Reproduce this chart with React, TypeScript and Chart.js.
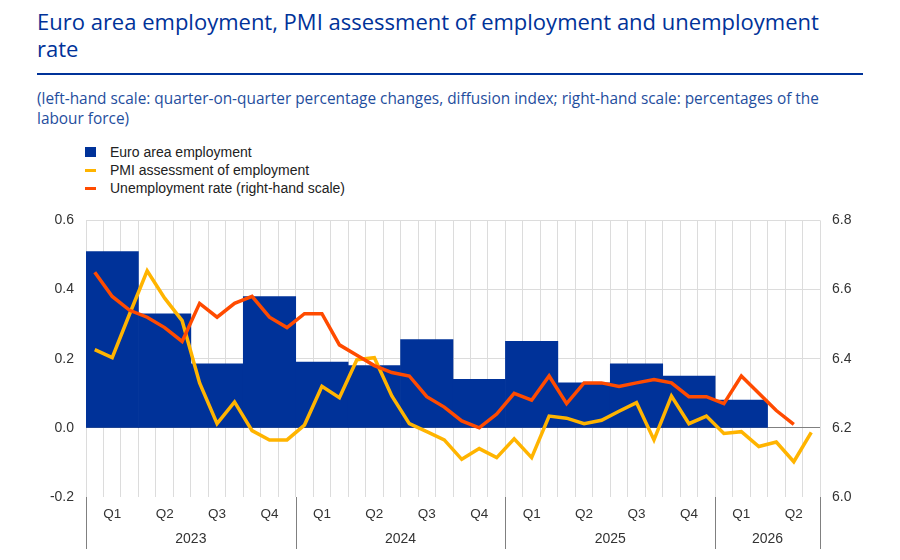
import { useEffect, useRef } from 'react';
import { Chart, registerables } from 'chart.js';

Chart.register(...registerables);

const BLUE = '#003299';
const YELLOW = '#ffb400';
const ORANGE = '#ff4b00';

const quarters = [
	'2023 Q1', '2023 Q2', '2023 Q3', '2023 Q4',
	'2024 Q1', '2024 Q2', '2024 Q3', '2024 Q4',
	'2025 Q1', '2025 Q2', '2025 Q3', '2025 Q4',
	'2026 Q1', '2026 Q2',
];

const years = ['2023', '2024', '2025', '2026'];

const months = [
	'2023-01', '2023-02', '2023-03', '2023-04', '2023-05', '2023-06',
	'2023-07', '2023-08', '2023-09', '2023-10', '2023-11', '2023-12',
	'2024-01', '2024-02', '2024-03', '2024-04', '2024-05', '2024-06',
	'2024-07', '2024-08', '2024-09', '2024-10', '2024-11', '2024-12',
	'2025-01', '2025-02', '2025-03', '2025-04', '2025-05', '2025-06',
	'2025-07', '2025-08', '2025-09', '2025-10', '2025-11', '2025-12',
	'2026-01', '2026-02', '2026-03', '2026-04', '2026-05', '2026-06',
];

// quarter-on-quarter % change
const employment = [0.51, 0.33, 0.185, 0.38, 0.19, 0.18, 0.255, 0.14, 0.25, 0.13, 0.185, 0.15, 0.08, null];

// monthly, left-hand scale
const pmiEmployment = [
	0.226, 0.203, 0.33, 0.454, 0.375, 0.31, 0.13, 0.012, 0.075, -0.008, -0.035, -0.035,
	0.008, 0.12, 0.087, 0.197, 0.203, 0.092, 0.012, -0.011, -0.035, -0.091, -0.06, -0.086,
	-0.032, -0.086, 0.034, 0.028, 0.012, 0.022, 0.048, 0.073, -0.035, 0.092, 0.012, 0.034,
	-0.016, -0.011, -0.054, -0.041, -0.098, -0.013,
];

// monthly, right-hand scale
const unemployment = [
	6.65, 6.58, 6.54, 6.52, 6.49, 6.45, 6.56, 6.52, 6.56, 6.58, 6.52, 6.49,
	6.53, 6.53, 6.44, 6.41, 6.38, 6.36, 6.35, 6.29, 6.26, 6.22, 6.2, 6.24,
	6.3, 6.28, 6.35, 6.27, 6.33, 6.33, 6.32, 6.33, 6.34, 6.33, 6.29, 6.29,
	6.27, 6.35, 6.3, 6.25, 6.21, null,
];

const FONT = '"Liberation Sans", Arial, sans-serif';

// year labels and separators under the quarter labels
const yearAxis = {
	id: 'yearAxis',
	afterDraw(chart: any) {
		const q = chart.scales.q;
		const { ctx, chartArea } = chart;
		const half = (q.getPixelForValue(1) - q.getPixelForValue(0)) / 2;
		ctx.save();
		ctx.strokeStyle = '#808080';
		ctx.lineWidth = 1;
		ctx.fillStyle = '#333';
		ctx.font = '14px ' + FONT;
		ctx.textAlign = 'center';
		ctx.textBaseline = 'middle';
		years.forEach((year) => {
			const idx = quarters.map((l, i) => (l.startsWith(year) ? i : -1)).filter((i) => i >= 0);
			const left = q.getPixelForValue(idx[0]) - half;
			const right = q.getPixelForValue(idx[idx.length - 1]) + half;
			[left, right].forEach((x) => {
				const px = Math.round(x) + 0.5;
				ctx.beginPath();
				ctx.moveTo(px, chartArea.bottom);
				ctx.lineTo(px, chartArea.bottom + 52);
				ctx.stroke();
			});
			ctx.fillText(year, (left + right) / 2, chartArea.bottom + 42);
		});
		ctx.restore();
	},
};

function EmploymentChart() {
	const chartRef = useRef<HTMLCanvasElement>(null);

	useEffect(() => {
		if (!chartRef.current) return;
		const chart = new Chart(chartRef.current, {
			type: 'bar',
			data: {
				labels: months,
				datasets: [
					{
						type: 'line',
						label: 'Unemployment rate (right-hand scale)',
						data: unemployment,
						xAxisID: 'm',
						yAxisID: 'y2',
						borderColor: ORANGE,
						borderWidth: 3.5,
						pointRadius: 0,
						tension: 0,
						order: 1,
					},
					{
						type: 'line',
						label: 'PMI assessment of employment',
						data: pmiEmployment,
						xAxisID: 'm',
						yAxisID: 'y',
						borderColor: YELLOW,
						borderWidth: 3.5,
						pointRadius: 0,
						tension: 0,
						order: 2,
					},
					{
						type: 'bar',
						label: 'Euro area employment',
						data: employment,
						xAxisID: 'q',
						yAxisID: 'y',
						backgroundColor: BLUE,
						grouped: false,
						barPercentage: 1,
						categoryPercentage: 1,
						order: 3,
					},
				] as any,
			},
			options: {
				animation: false,
				responsive: true,
				maintainAspectRatio: false,
				layout: { padding: { top: 13, left: 0, right: 0, bottom: 0 } },
				plugins: { legend: { display: false }, tooltip: { enabled: false } },
				scales: {
					m: {
						type: 'category',
						position: 'bottom',
						offset: true,
						grid: { offset: true, color: '#dcdcdc', drawTicks: false },
						border: { display: false },
						ticks: { display: false },
						afterFit: (s: any) => {
							s.height = 0;
						},
					},
					q: {
						type: 'category',
						labels: quarters,
						position: 'bottom',
						offset: true,
						grid: { display: false, drawTicks: false },
						border: { display: false },
						ticks: {
							padding: 9,
							autoSkip: false,
							maxRotation: 0,
							color: '#333',
							font: { size: 13.5, family: FONT },
							callback: (_v: any, i: number) => quarters[i].split(' ')[1],
						},
						afterFit: (s: any) => {
							s.height = 63;
						},
					},
					y: {
						position: 'left',
						min: -0.2,
						max: 0.6,
						border: { display: false },
						grid: {
							drawTicks: false,
							color: (c: any) =>
								c.tick.value === 0 ? '#808080' : c.tick.value < -0.1 ? 'rgba(0,0,0,0)' : '#dcdcdc',
						},
						ticks: {
							stepSize: 0.2,
							padding: 12,
							color: '#333',
							font: { size: 14, family: FONT },
							callback: (v: any) => Number(v).toFixed(1),
						},
						afterFit: (s: any) => {
							s.width = 86;
						},
					},
					y2: {
						position: 'right',
						min: 6.0,
						max: 6.8,
						border: { display: false },
						grid: { display: false, drawTicks: false },
						ticks: {
							stepSize: 0.2,
							padding: 12,
							color: '#333',
							font: { size: 14, family: FONT },
							callback: (v: any) => Number(v).toFixed(1),
						},
						afterFit: (s: any) => {
							s.width = 80;
						},
					},
				} as any,
			},
			plugins: [yearAxis],
		});
		return () => chart.destroy();
	}, []);

	return (
		<div style={{ position: 'absolute', top: 200, left: 0, width: 900, height: 360 }}>
			<canvas ref={chartRef}></canvas>
		</div>
	);
}

function LegendRow({ kind, color, text }: { kind: 'box' | 'line'; color: string; text: string }) {
	return (
		<div style={{ display: 'flex', alignItems: 'center', height: 18 }}>
			<span
				style={{
					display: 'inline-block',
					width: 11,
					height: kind === 'box' ? 10 : 3,
					background: color,
					marginRight: 14,
				}}
			></span>
			<span>{text}</span>
		</div>
	);
}

export default function App() {
	return (
		<div
			style={{
				position: 'absolute',
				top: 0,
				left: 0,
				width: 900,
				height: 560,
				background: '#fff',
				fontFamily: '"Open Sans", sans-serif',
				overflow: 'hidden',
			}}
		>
			<div style={{ position: 'absolute', left: 37, top: 8, fontSize: 22, lineHeight: '27px', color: BLUE, whiteSpace: 'nowrap' }}>
				Euro area employment, PMI assessment of employment and unemployment
				<br />
				rate
			</div>
			<div style={{ position: 'absolute', left: 37, top: 73, width: 826, height: 2, background: BLUE }}></div>
			<div
				style={{
					position: 'absolute',
					left: 37,
					top: 89,
					fontSize: 15.4,
					lineHeight: '20px',
					color: '#1f4e9e',
					whiteSpace: 'nowrap',
				}}
			>
				(left-hand scale: quarter-on-quarter percentage changes, diffusion index; right-hand scale: percentages of the
				<br />
				labour force)
			</div>
			<div
				style={{
					position: 'absolute',
					left: 85,
					top: 143,
					fontFamily: FONT,
					fontSize: 14,
					color: '#222',
				}}
			>
				<LegendRow kind="box" color={BLUE} text="Euro area employment" />
				<LegendRow kind="line" color={YELLOW} text="PMI assessment of employment" />
				<LegendRow kind="line" color={ORANGE} text="Unemployment rate (right-hand scale)" />
			</div>
			<EmploymentChart />
		</div>
	);
}
